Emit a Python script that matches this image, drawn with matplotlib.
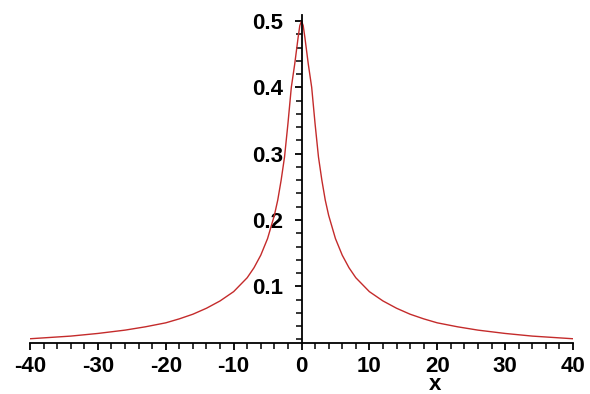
import matplotlib
matplotlib.use('Agg')
import matplotlib.pyplot as plt
from matplotlib.ticker import MultipleLocator, FixedLocator

# values (right half; curve is symmetric about x=0)
x_right = [0, 0.25, 0.5, 0.75, 1, 1.5, 2, 2.5, 3, 3.5, 4, 5, 6, 7, 8, 10, 12,
           14, 16, 18, 20, 23, 26, 30, 34, 37, 40]
y_right = [0.5, 0.493, 0.475, 0.455, 0.435, 0.40, 0.345, 0.295, 0.26, 0.23,
           0.207, 0.172, 0.147, 0.128, 0.113, 0.092, 0.078, 0.067, 0.058,
           0.051, 0.045, 0.039, 0.034, 0.029, 0.025, 0.023, 0.021]
x_ticks = [-40, -30, -20, -10, 0, 10, 20, 30, 40]
y_ticks = [0.1, 0.2, 0.3, 0.4, 0.5]

xs = [-v for v in reversed(x_right)][:-1] + x_right
ys = list(reversed(y_right))[:-1] + y_right

label_font = dict(family=['Liberation Sans', 'DejaVu Sans'],
                  weight='bold', size=16)

fig = plt.figure(figsize=(5.9, 3.94), dpi=100)
ax = fig.add_axes([30 / 590, 51 / 394, 543 / 590, 328 / 394])

ax.plot(xs, ys, color='#c42b2b', linewidth=1.0)

ax.set_xlim(-40, 40)
ax.set_ylim(0.0146, 0.509)

ax.spines['top'].set_visible(False)
ax.spines['right'].set_visible(False)
ax.spines['left'].set_position(('data', 0))
for s in ('left', 'bottom'):
    ax.spines[s].set_linewidth(1.3)

ax.xaxis.set_major_locator(FixedLocator(x_ticks))
ax.xaxis.set_minor_locator(MultipleLocator(2))
ax.yaxis.set_major_locator(FixedLocator(y_ticks))
ax.yaxis.set_minor_locator(MultipleLocator(0.02))
ax.set_xticklabels([str(t) for t in x_ticks], fontdict=label_font)
ax.set_yticklabels([f'{t:.1f}' for t in y_ticks], fontdict=label_font)
ax.tick_params(which='major', length=5, width=1.3, direction='out', pad=4)
ax.tick_params(which='minor', length=4, width=1.1, direction='out')
ax.tick_params(axis='y', pad=8)

fig.text(435 / 590, 1 - 385 / 394, 'x', ha='center', va='center',
         fontdict=label_font)

fig.savefig('out.png', dpi=100)
